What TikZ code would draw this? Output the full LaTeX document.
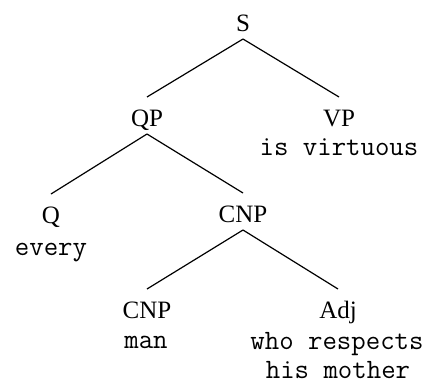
\documentclass[tikz,border=0pt]{standalone}
\usepackage{fontspec}
\setmainfont{Liberation Serif}
\begin{document}
\begin{tikzpicture}[x=1pt,y=-1pt,
  cat/.style={anchor=base, inner sep=0pt, font=\fontsize{25}{30}\selectfont},
  word/.style={anchor=base, inner sep=0pt, font=\fontsize{28}{30}\selectfont\ttfamily},
  branch/.style={line width=1.2pt}]
\useasboundingbox (0,0) rectangle (430,383);
\node[cat] (S) at (243,31) {S};
\node[cat] (QP) at (147,126) {QP};
\node[cat] (VP) at (339,126) {VP};
\node[word] (w1) at (339,155) {is virtuous};
\node[cat] (Q) at (51,223) {Q};
\node[word] (w2) at (51,255) {every};
\node[cat] (CNP) at (243,222) {CNP};
\node[cat] (CNP2) at (147,318) {CNP};
\node[word] (w3) at (146,348) {man};
\node[cat] (Adj) at (338,318) {Adj};
\node[word] (w4) at (337,349) {who respects};
\node[word] (w5) at (338,378) {his mother};
\draw[branch] ([yshift=-8pt]S.base) -- ([yshift=29pt]QP.base);
\draw[branch] ([yshift=-8pt]S.base) -- ([yshift=29pt]VP.base);
\draw[branch] ([yshift=-8pt]QP.base) -- ([yshift=29pt]Q.base);
\draw[branch] ([yshift=-8pt]QP.base) -- ([yshift=29pt]CNP.base);
\draw[branch] ([yshift=-8pt]CNP.base) -- ([yshift=29pt]CNP2.base);
\draw[branch] ([yshift=-8pt]CNP.base) -- ([yshift=29pt]Adj.base);
\end{tikzpicture}
\end{document}
